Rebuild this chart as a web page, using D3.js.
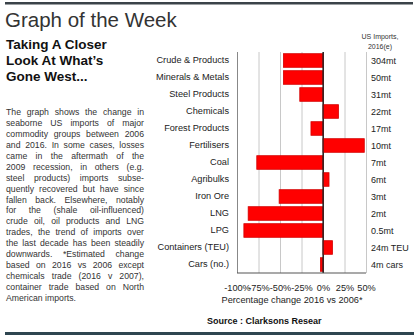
<!DOCTYPE html>
<html>
<head>
<meta charset="utf-8">
<script src="https://cdn.jsdelivr.net/npm/d3@7"></script>
<style>
  html, body { margin: 0; padding: 0; background: #fff; }
  svg { display: block; font-family: "Liberation Sans", Arial, Helvetica, sans-serif; }
</style>
</head>
<body>
<svg id="chart" width="414" height="336"></svg>
<script>
const categories = ["Crude & Products", "Minerals & Metals", "Steel Products", "Chemicals",
  "Forest Products", "Fertilisers", "Coal", "Agribulks", "Iron Ore", "LNG", "LPG",
  "Containers (TEU)", "Cars (no.)"];
const changes = [-46, -46, -27, 18, -14, 48, -77, 7, -51, -87, -92, 11, -3];
const imports = ["304mt", "50mt", "31mt", "22mt", "17mt", "10mt", "7mt", "6mt", "3mt", "2mt",
  "0.5mt", "24m TEU", "4m cars"];
const xTicks = [-100, -75, -50, -25, 0, 25, 50];
const titleText = "Graph of the Week";
const headingLines = ["Taking A Closer", "Look At What\u2019s", "Gone West..."];
const bodyLines = [
  "The graph shows the change in",
  "seaborne US imports of major",
  "commodity groups between 2006",
  "and 2016. In some cases, losses",
  "came in the aftermath of the",
  "2009 recession, in others (e.g.",
  "steel products) imports subse-",
  "quently recovered but have since",
  "fallen back. Elsewhere, notably",
  "for the (shale oil-influenced)",
  "crude oil, oil products and LNG",
  "trades, the trend of imports over",
  "the last decade has been steadily",
  "downwards. *Estimated change",
  "based on 2016 vs 2006 except",
  "chemicals trade (2016 v 2007),",
  "container trade based on North",
  "American imports."
];
const columnHeader = ["US Imports,", "2016(e)"];
const axisTitle = "Percentage change 2016 vs 2006*";
const sourceText = "Source : Clarksons Resear";

const svg = d3.select("#chart");

// top and bottom rules
svg.append("rect").attr("x", 5).attr("y", 2).attr("width", 408).attr("height", 2.5).attr("fill", "#3b4349");
svg.append("rect").attr("x", 5).attr("y", 332).attr("width", 409).attr("height", 3).attr("fill", "#2e4650");

// title
svg.append("text").attr("x", 5).attr("y", 27).attr("font-size", 20.5).attr("fill", "#333")
  .attr("font-weight", 300).text(titleText);

// heading
svg.selectAll(".head").data(headingLines).join("text")
  .attr("x", 6).attr("y", (d, i) => 49 + i * 16)
  .attr("font-size", 13.5).attr("font-weight", "bold").attr("fill", "#111").text(d => d);

// body text, justified
const bodyW = 138, bodyX = 6;
const body = svg.append("g");
bodyLines.forEach((line, i) => {
  const t = body.append("text").attr("x", bodyX).attr("y", 115 + i * 10.94)
    .attr("font-size", 8.7).attr("fill", "#333").text(line);
  if (i < bodyLines.length - 1) {
    const len = t.node().getComputedTextLength();
    const gaps = line.split(" ").length - 1;
    if (gaps > 0) t.style("word-spacing", ((bodyW - len) / gaps) + "px");
  }
});

// chart
const x = d3.scaleLinear().domain([-100, 50]).range([237, 366]);
const y = d3.scaleBand().domain(categories).range([52, 273]).paddingInner(0.2).paddingOuter(0.1);

const xAxis = svg.append("g").attr("transform", "translate(0,273)")
  .call(d3.axisBottom(x).tickValues(xTicks).tickFormat(d => d + "%").tickSize(-(273 - 52)).tickPadding(11));
xAxis.select(".domain").remove();
xAxis.selectAll(".tick line").attr("stroke", d => d === 0 ? "#333" : (d === -100 ? "#888" : "#c8c8c8"));
xAxis.selectAll(".tick text").attr("font-size", 9.2).attr("fill", "#222")
  .attr("font-family", "Liberation Sans, Arial, sans-serif");

// bars
svg.append("g").selectAll("rect").data(categories).join("rect")
  .attr("x", (d, i) => x(Math.min(0, changes[i])))
  .attr("y", d => y(d))
  .attr("width", (d, i) => Math.abs(x(changes[i]) - x(0)))
  .attr("height", y.bandwidth())
  .attr("fill", "#ff0000").attr("stroke", "#d40000").attr("stroke-width", 0.8);

// zero line on top
svg.append("line").attr("x1", x(0)).attr("x2", x(0)).attr("y1", 52).attr("y2", 273)
  .attr("stroke", "#222").attr("stroke-width", 1.2);
// bottom axis line
svg.append("line").attr("x1", x(-100)).attr("x2", x(50)).attr("y1", 273).attr("y2", 273)
  .attr("stroke", "#555").attr("stroke-width", 1.2);

// category labels
const yAxis = svg.append("g").attr("transform", "translate(237,0)")
  .call(d3.axisLeft(y).tickSize(0).tickPadding(8));
yAxis.select(".domain").remove();
yAxis.selectAll(".tick text").attr("font-size", 9.2).attr("fill", "#222")
  .attr("font-family", "Liberation Sans, Arial, sans-serif");

// value column
svg.append("g").selectAll("text").data(categories).join("text")
  .attr("x", 371).attr("y", d => y(d) + y.bandwidth() / 2).attr("dy", "0.35em")
  .attr("font-size", 9).attr("fill", "#222").text((d, i) => imports[i]);

svg.selectAll(".colhead").data(columnHeader).join("text")
  .attr("x", 380).attr("y", (d, i) => 39 + i * 10).attr("text-anchor", "middle")
  .attr("font-size", 7).attr("fill", "#333").text(d => d);

// axis title
svg.append("text").attr("x", 292).attr("y", 303).attr("text-anchor", "middle")
  .attr("font-size", 9.2).attr("fill", "#222").text(axisTitle);

// source
svg.append("text").attr("x", 207).attr("y", 324).attr("font-size", 9).attr("font-weight", "bold")
  .attr("fill", "#111").text(sourceText);
</script>
</body>
</html>
